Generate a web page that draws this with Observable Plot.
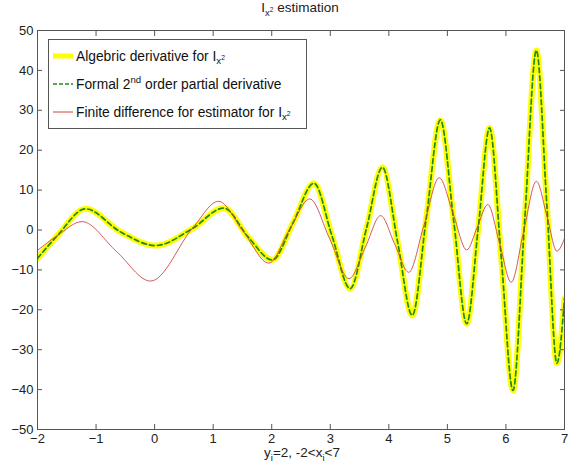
<!DOCTYPE html>
<html>
<head>
<meta charset="utf-8">
<script src="https://cdn.jsdelivr.net/npm/d3@7"></script>
<script src="https://cdn.jsdelivr.net/npm/@observablehq/plot@0.6"></script>
<style>
  body { margin: 0; background: #fff; font-family: "Liberation Sans", Arial, Helvetica, sans-serif; }
  #wrap { position: relative; width: 579px; height: 469px; }
  #title { position: absolute; left: 0; width: 600px; top: 0px; text-align: center; font-size: 13.5px; color: #222; line-height: 16px; }
  #xlabel { position: absolute; left: 0; width: 604px; top: 446px; text-align: center; font-size: 13.5px; color: #222; line-height: 14px; }
  sub, sup { font-size: 70%; line-height: 0; }
  #legend { position: absolute; left: 48px; top: 39px; width: 257px; height: 88px; border: 1px solid #555; background: #fff; font-size: 13.8px; color: #111; }
  .row { position: absolute; left: 0; height: 20px; display: flex; align-items: center; white-space: nowrap; }
  .row svg { margin-left: 4px; margin-right: 3px; }
</style>
</head>
<body>
<div id="wrap">
  <div id="chart"></div>
  <div id="title">I<sub>x<sup>2</sup></sub> estimation</div>
  <div id="xlabel">y<sub>i</sub>=2, -2&lt;x<sub>i</sub>&lt;7</div>
  <div id="legend">
    <div class="row" style="top:6px"><svg width="20" height="10"><line x1="0" x2="20" y1="5" y2="5" stroke="#ffff00" stroke-width="5"/></svg><span>Algebric derivative for I<sub>x<sup>2</sup></sub></span></div>
    <div class="row" style="top:34px"><svg width="20" height="10"><line x1="0" x2="20" y1="5" y2="5" stroke="#1f8a1f" stroke-width="1.6" stroke-dasharray="4,2"/></svg><span>Formal 2<sup>nd</sup> order partial derivative</span></div>
    <div class="row" style="top:62px"><svg width="20" height="10"><line x1="0" x2="20" y1="5" y2="5" stroke="#d04545" stroke-width="1"/></svg><span>Finite difference for estimator for I<sub>x<sup>2</sup></sub></span></div>
  </div>
</div>
<script>
// x positions and values
const xAlg = [-2, -1.66, -1.18, -0.58, 0.015, 0.64, 1.18, 1.6, 2.01, 2.37, 2.72, 3.03, 3.34, 3.62, 3.89, 4.15, 4.40, 4.64, 4.88, 5.11, 5.33, 5.53, 5.72, 5.92, 6.12, 6.32, 6.52, 6.70, 6.87, 7.0];
const algebric = [-7.1, -1.4, 5.3, -0.5, -3.9, 0.3, 5.5, -1.8, -7.5, 2.0, 11.7, -1.5, -14.7, 0.5, 15.7, -3.0, -21.4, 3.0, 27.6, 2.0, -23.5, 1.0, 25.6, -7.0, -40.2, 2.4, 45.0, 5.8, -33.4, -17.2];
const formal = [-7.1, -1.4, 5.3, -0.5, -3.9, 0.3, 5.5, -1.8, -7.5, 2.0, 11.7, -1.5, -14.7, 0.5, 15.7, -3.0, -21.4, 3.0, 27.6, 2.0, -23.5, 1.0, 25.6, -7.0, -40.2, 2.4, 45.0, 5.8, -33.4, -17.2];
const xFin = [-2, -1.66, -1.24, -0.65, -0.07, 0.66, 1.09, 1.52, 1.95, 2.3, 2.65, 2.99, 3.32, 3.6, 3.86, 4.1, 4.34, 4.6, 4.86, 5.1, 5.33, 5.51, 5.69, 5.89, 6.09, 6.3, 6.52, 6.7, 6.87, 7.0];
const finite = [-5.1, -1.4, 2.1, -5.4, -12.8, 0.7, 7.2, -0.5, -8.3, 0.0, 7.8, -2.2, -12.2, -4.3, 3.6, -3.5, -10.6, 1.2, 13.1, 4.0, -5.0, 0.7, 6.4, -3.3, -13.1, -0.5, 12.2, 3.5, -5.3, -2.1];
const xTicks = [-2, -1, 0, 1, 2, 3, 4, 5, 6, 7];
const yTicks = [-50, -40, -30, -20, -10, 0, 10, 20, 30, 40, 50];

const algData = xAlg.map((x, i) => ({x, y: algebric[i]}));
const formData = xAlg.map((x, i) => ({x, y: formal[i]}));
const finData = xFin.map((x, i) => ({x, y: finite[i]}));

const axisColor = "#555";
const chart = Plot.plot({
  width: 579,
  height: 469,
  marginLeft: 37,
  marginRight: 15,
  marginTop: 30,
  marginBottom: 40,
  style: {fontFamily: '"Liberation Sans", Arial, sans-serif', fontSize: "13px", color: "#222", background: "#fff"},
  x: {domain: [-2, 7]},
  y: {domain: [-50, 50]},
  marks: [
    Plot.line(algData, {x: "x", y: "y", stroke: "#ffff00", strokeWidth: 6, curve: "monotone-x", clip: true}),
    Plot.line(formData, {x: "x", y: "y", stroke: "#1f8a1f", strokeWidth: 1.7, strokeDasharray: "5,3", curve: "monotone-x", clip: true}),
    Plot.line(finData, {x: "x", y: "y", stroke: "#d04545", strokeWidth: 0.9, curve: "monotone-x", clip: true}),
    Plot.frame({stroke: axisColor}),
    Plot.axisX(xTicks, {anchor: "bottom", tickSize: -5, tickPadding: 9, stroke: axisColor, label: null, fill: "#222"}),
    Plot.axisX(xTicks, {anchor: "top", tickSize: -5, tickFormat: () => "", stroke: axisColor, label: null}),
    Plot.axisY(yTicks, {anchor: "left", tickSize: -5, tickPadding: 9, stroke: axisColor, label: null, fill: "#222"}),
    Plot.axisY(yTicks, {anchor: "right", tickSize: -5, tickFormat: () => "", stroke: axisColor, label: null})
  ]
});
document.getElementById("chart").appendChild(chart);
</script>
</body>
</html>
